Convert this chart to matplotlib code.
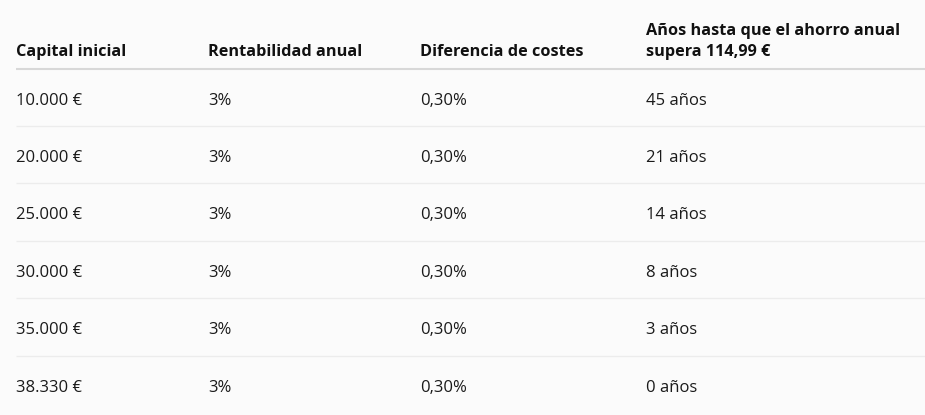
import matplotlib
matplotlib.use("Agg")
from matplotlib import pyplot as plt

plt.rcParams["font.family"] = ["Open Sans", "DejaVu Sans"]

headers = [["Capital inicial"], ["Rentabilidad anual"], ["Diferencia de costes"],
           ["Años hasta que el ahorro anual", "supera 114,99 €"]]
capital = ["10.000 €", "20.000 €", "25.000 €", "30.000 €", "35.000 €", "38.330 €"]
rentabilidad = ["3%", "3%", "3%", "3%", "3%", "3%"]
diferencia = ["0,30%", "0,30%", "0,30%", "0,30%", "0,30%", "0,30%"]
anios = [45, 21, 14, 8, 3, 0]

W, H = 925, 415
bg = "#fbfbfb"
fig = plt.figure(figsize=(W / 100, H / 100), dpi=100, facecolor=bg)
ax = fig.add_axes([0, 0, 1, 1])
ax.set_xlim(0, W)
ax.set_ylim(H, 0)
ax.axis("off")

col_x = [16, 208, 420, 646]
header_base = 56.5
line_gap = 21.5
row_base0, row_h = 104.5, 57.4
fs = 12

# header
for x, lines in zip(col_x, headers):
    n = len(lines)
    for k, t in enumerate(lines):
        ax.text(x, header_base - (n - 1 - k) * line_gap, t, fontsize=fs - 0.3,
                fontweight="bold", color="#111111", ha="left", va="baseline")
ax.plot([16, W], [69.5, 69.5], color="#d8d8d8", lw=1.5, solid_capstyle="butt")

# rows
cols = [capital, rentabilidad, diferencia, [f"{a} años" for a in anios]]
for i in range(len(capital)):
    yb = row_base0 + i * row_h
    for x, col in zip(col_x, cols):
        ax.text(x, yb, col[i], fontsize=fs, color="#1a1a1a", ha="left", va="baseline")
    if i < len(capital) - 1:
        ly = yb + 21.5
        ax.plot([16, W], [ly, ly], color="#ececec", lw=1.0, solid_capstyle="butt")

fig.savefig("out.png", dpi=100, facecolor=bg)
